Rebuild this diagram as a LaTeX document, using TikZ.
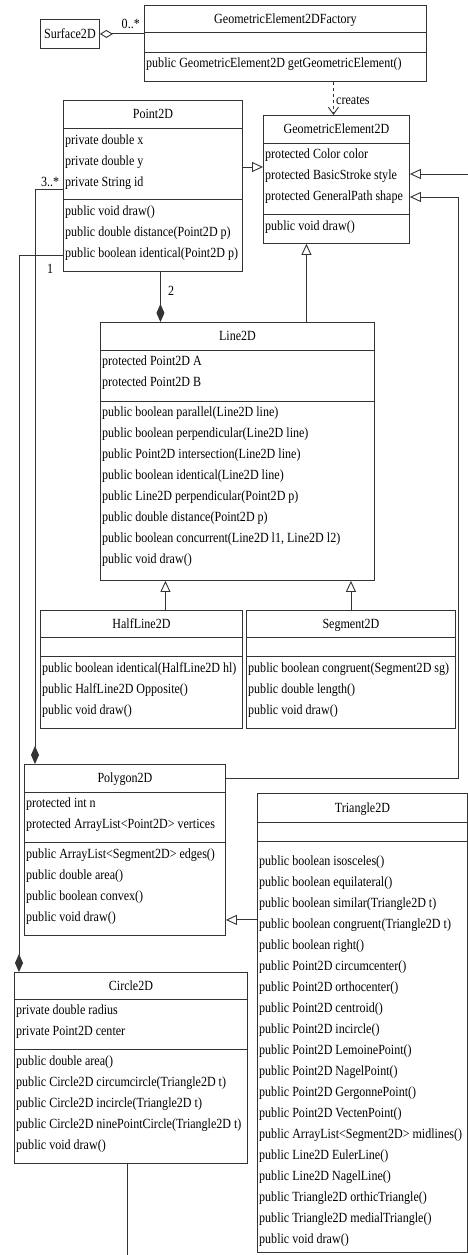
\documentclass[tikz,border=0pt]{standalone}
\usepackage{fontspec}
\setmainfont[FakeStretch=0.86]{Liberation Serif}
\usetikzlibrary{arrows.meta, shadows}

\begin{document}
\begin{tikzpicture}[x=1pt, y=-1pt, font=\fontsize{14}{21}\selectfont,
        cbox/.style={draw=black!80, line width=0.9pt, fill=white, inner sep=0pt, anchor=north west,
            drop shadow={shadow xshift=1pt, shadow yshift=-1pt, fill=black!30}},
        ctitle/.style={anchor=base, inner sep=0pt},
        cmem/.style={anchor=north west, align=left, inner xsep=2pt, inner ysep=0pt},
        csep/.style={draw=black!80, line width=0.9pt},
        link/.style={draw=black!80, line width=0.9pt},
        gen/.style={link, -{Triangle[open, length=11pt, width=10pt]}},
        comp/.style={link, -{Diamond[length=18pt, width=8pt]}},
        aggr/.style={link, {Diamond[open, length=13pt, width=8pt]}-},
        dep/.style={link, dashed, -{Straight Barb[length=7pt, width=10pt]}}]
        \useasboundingbox (0,0) rectangle (468,1255);

        \node [cbox, minimum width=59pt, minimum height=29pt] (Nsurf) at (40, 19) {Surface2D};

        \node [cbox, minimum width=282pt, minimum height=76pt] (Nfact) at (144, 5) {};
        \node [ctitle] (Nfact-t) at ([yshift=-18.5pt]Nfact.north) {GeometricElement2DFactory};
        \draw [csep] ([yshift=-27pt]Nfact.north west) -- ([yshift=-27pt]Nfact.north east);
        \draw [csep] ([yshift=-47pt]Nfact.north west) -- ([yshift=-47pt]Nfact.north east);
        \node [cmem] (Nfact-m) at ([yshift=-48pt]Nfact.north west) {\strut public GeometricElement2D getGeometricElement()};

        \node [cbox, minimum width=179pt, minimum height=171pt] (Npoint) at (63, 100) {};
        \node [ctitle] (Npoint-t) at ([yshift=-18.5pt]Npoint.north) {Point2D};
        \draw [csep] ([yshift=-28pt]Npoint.north west) -- ([yshift=-28pt]Npoint.north east);
        \draw [csep] ([yshift=-99pt]Npoint.north west) -- ([yshift=-99pt]Npoint.north east);
        \node [cmem] (Npoint-a) at ([yshift=-30pt]Npoint.north west) {\strut private double x\\private double y\\private String id};
        \node [cmem] (Npoint-m) at ([yshift=-101pt]Npoint.north west) {\strut public void draw()\\public double distance(Point2D p)\\public boolean identical(Point2D p)};

        \node [cbox, minimum width=146pt, minimum height=128pt] (Ngeom) at (263, 115) {};
        \node [ctitle] (Ngeom-t) at ([yshift=-18.5pt]Ngeom.north) {GeometricElement2D};
        \draw [csep] ([yshift=-28pt]Ngeom.north west) -- ([yshift=-28pt]Ngeom.north east);
        \draw [csep] ([yshift=-99pt]Ngeom.north west) -- ([yshift=-99pt]Ngeom.north east);
        \node [cmem] (Ngeom-a) at ([yshift=-29pt]Ngeom.north west) {\strut protected Color color\\protected BasicStroke style\\protected GeneralPath shape};
        \node [cmem] (Ngeom-m) at ([yshift=-101pt]Ngeom.north west) {\strut public void draw()};

        \node [cbox, minimum width=274pt, minimum height=258pt] (Nline) at (100, 322) {};
        \node [ctitle] (Nline-t) at ([yshift=-18.5pt]Nline.north) {Line2D};
        \draw [csep] ([yshift=-28pt]Nline.north west) -- ([yshift=-28pt]Nline.north east);
        \draw [csep] ([yshift=-79pt]Nline.north west) -- ([yshift=-79pt]Nline.north east);
        \node [cmem] (Nline-a) at ([yshift=-29pt]Nline.north west) {\strut protected Point2D A\\protected Point2D B};
        \node [cmem] (Nline-m) at ([yshift=-80pt]Nline.north west) {\strut public boolean parallel(Line2D line)\\public boolean perpendicular(Line2D line)\\public Point2D intersection(Line2D line)\\public boolean identical(Line2D line)\\public Line2D perpendicular(Point2D p)\\public double distance(Point2D p)\\public boolean concurrent(Line2D l1, Line2D l2)\\public void draw()};

        \node [cbox, minimum width=202pt, minimum height=118pt] (Nhalf) at (40, 610) {};
        \node [ctitle] (Nhalf-t) at ([yshift=-18.5pt]Nhalf.north) {HalfLine2D};
        \draw [csep] ([yshift=-27pt]Nhalf.north west) -- ([yshift=-27pt]Nhalf.north east);
        \draw [csep] ([yshift=-46pt]Nhalf.north west) -- ([yshift=-46pt]Nhalf.north east);
        \node [cmem] (Nhalf-m) at ([yshift=-48pt]Nhalf.north west) {\strut public boolean identical(HalfLine2D hl)\\public HalfLine2D Opposite()\\public void draw()};

        \node [cbox, minimum width=209pt, minimum height=118pt] (Nseg) at (246, 610) {};
        \node [ctitle] (Nseg-t) at ([yshift=-18.5pt]Nseg.north) {Segment2D};
        \draw [csep] ([yshift=-27pt]Nseg.north west) -- ([yshift=-27pt]Nseg.north east);
        \draw [csep] ([yshift=-46pt]Nseg.north west) -- ([yshift=-46pt]Nseg.north east);
        \node [cmem] (Nseg-m) at ([yshift=-48pt]Nseg.north west) {\strut public boolean congruent(Segment2D sg)\\public double length()\\public void draw()};

        \node [cbox, minimum width=201pt, minimum height=171pt] (Npoly) at (24, 764) {};
        \node [ctitle] (Npoly-t) at ([yshift=-18.5pt]Npoly.north) {Polygon2D};
        \draw [csep] ([yshift=-28pt]Npoly.north west) -- ([yshift=-28pt]Npoly.north east);
        \draw [csep] ([yshift=-78pt]Npoly.north west) -- ([yshift=-78pt]Npoly.north east);
        \node [cmem] (Npoly-a) at ([yshift=-29pt]Npoly.north west) {\strut protected int n\\protected ArrayList<Point2D> vertices};
        \node [cmem] (Npoly-m) at ([yshift=-80pt]Npoly.north west) {\strut public ArrayList<Segment2D> edges()\\public double area()\\public boolean convex()\\public void draw()};

        \node [cbox, minimum width=210pt, minimum height=459pt] (Ntri) at (257, 793) {};
        \node [ctitle] (Ntri-t) at ([yshift=-19pt]Ntri.north) {Triangle2D};
        \draw [csep] ([yshift=-29pt]Ntri.north west) -- ([yshift=-29pt]Ntri.north east);
        \draw [csep] ([yshift=-48pt]Ntri.north west) -- ([yshift=-48pt]Ntri.north east);
        \node [cmem] (Ntri-m) at ([yshift=-58pt]Ntri.north west) {\strut public boolean isosceles()\\public boolean equilateral()\\public boolean similar(Triangle2D t)\\public boolean congruent(Triangle2D t)\\public boolean right()\\public Point2D circumcenter()\\public Point2D orthocenter()\\public Point2D centroid()\\public Point2D incircle()\\public Point2D LemoinePoint()\\public Point2D NagelPoint()\\public Point2D GergonnePoint()\\public Point2D VectenPoint()\\public ArrayList<Segment2D> midlines()\\public Line2D EulerLine()\\public Line2D NagelLine()\\public Triangle2D orthicTriangle()\\public Triangle2D medialTriangle()\\public void draw()};

        \node [cbox, minimum width=233pt, minimum height=191pt] (Ncirc) at (14, 972) {};
        \node [ctitle] (Ncirc-t) at ([yshift=-18.5pt]Ncirc.north) {Circle2D};
        \draw [csep] ([yshift=-27pt]Ncirc.north west) -- ([yshift=-27pt]Ncirc.north east);
        \draw [csep] ([yshift=-77pt]Ncirc.north west) -- ([yshift=-77pt]Ncirc.north east);
        \node [cmem] (Ncirc-a) at ([yshift=-28pt]Ncirc.north west) {\strut private double radius\\private Point2D center};
        \node [cmem] (Ncirc-m) at ([yshift=-79pt]Ncirc.north west) {\strut public double area()\\public Circle2D circumcircle(Triangle2D t)\\public Circle2D incircle(Triangle2D t)\\public Circle2D ninePointCircle(Triangle2D t)\\public void draw()};

        % loose ends at the picture border
        \coordinate (Eright) at (468, 174);
        \coordinate (Ebottom) at (127.5, 1255);

        \draw [aggr] (Nsurf.east) -- (Nsurf.east -| Nfact.west) node [pos=0.7, above, yshift=1pt] {0..*};
        \draw [dep] ([xshift=48pt]Nfact.south) -- ([xshift=48pt]Nfact.south |- Ngeom.north) node [midway, right, xshift=-1pt, yshift=-2pt] {creates};
        \draw [gen] ([yshift=-67pt]Npoint.north east) -- ([yshift=-67pt]Npoint.north east -| Ngeom.west);
        \draw [gen] (Eright) -- (Eright -| Ngeom.east);
        \draw [gen] ([yshift=-14pt]Npoly.north east) -| ([xshift=49pt, yshift=-82pt]Ngeom.north east) -- ([yshift=-82pt]Ngeom.north east);
        \draw [gen] ([xshift=69pt]Nline.north) -- ([xshift=69pt]Nline.north |- Ngeom.south);
        \draw [comp] ([xshift=7.5pt]Npoint.south) -- ([xshift=7.5pt]Npoint.south |- Nline.north) node [pos=0.38, right, xshift=4pt] {2};
        \draw [gen] ([xshift=24pt]Nhalf.north) -- ([xshift=24pt]Nhalf.north |- Nline.south);
        \draw [gen] (Nseg.north) -- (Nseg.north |- Nline.south);
        \draw [comp] ([yshift=-89pt]Npoint.north west) -| ([xshift=11pt]Npoly.north west) node [pos=0, above left, yshift=-1pt] {3..*};
        \draw [comp] ([yshift=-155pt]Npoint.north west) -| ([xshift=5pt]Ncirc.north west) node [pos=0, below left, xshift=-6pt, yshift=-5pt] {1};
        \draw [gen] ([yshift=16pt]Npoly.south east -| Ntri.west) -- ([yshift=16pt]Npoly.south east);
        \draw [link] (Ebottom |- Ncirc.south) -- (Ebottom);
    \end{tikzpicture}
\end{document}
